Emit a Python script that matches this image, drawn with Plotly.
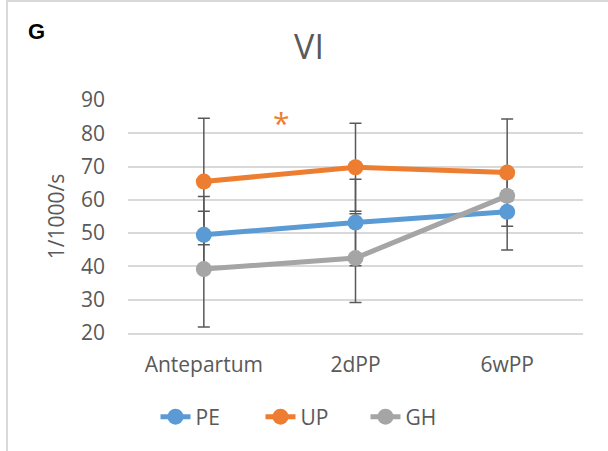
import plotly.graph_objects as go

# Time points and group means (1/1000/s) with their standard deviations
timepoints = ["Antepartum", "2dPP", "6wPP"]
pe_mean = [49.5, 53.2, 56.4]
pe_sd = [11.5, 13.0, 11.5]
up_mean = [65.5, 69.8, 68.2]
up_sd = [19.0, 13.2, 16.1]
gh_mean = [39.2, 42.5, 61.2]
gh_sd = [17.4, 13.3, 1.5]

y_ticks = [20, 30, 40, 50, 60, 70, 80, 90]

groups = [
    ("PE", pe_mean, pe_sd, "#5B9BD5"),
    ("UP", up_mean, up_sd, "#ED7D31"),
    ("GH", gh_mean, gh_sd, "#A5A5A5"),
]

FONT = "Open Sans"
GREY_TXT = "#595959"
TICK_SIZE = 21

fig = go.Figure()

# Error bars on the base axes, so the lines and markers (overlay axes) sit on top
for name, mean, sd, color in groups:
    fig.add_trace(go.Scatter(
        x=timepoints, y=mean, mode="markers",
        marker=dict(size=1, opacity=0),
        error_y=dict(type="data", array=sd, visible=True,
                     color="#595959", thickness=1.5, width=6),
        showlegend=False, hoverinfo="skip",
    ))

for name, mean, sd, color in groups:
    fig.add_trace(go.Scatter(
        x=timepoints, y=mean, mode="lines+markers", name=name,
        line=dict(color=color, width=5),
        marker=dict(color=color, size=16),
        xaxis="x2", yaxis="y2",
    ))

# Significance marker between Antepartum and 2dPP
fig.add_annotation(x=0.51, y=83.2, xref="x", yref="y", text="*",
                   showarrow=False, xanchor="center", yanchor="middle",
                   font=dict(family=FONT, size=30, color="#ED7D31"))

# Panel letter
fig.add_annotation(x=(36 - 128) / 455, y=(333 - 31) / 233, xref="paper", yref="paper",
                   text="<b>G</b>", showarrow=False, xanchor="center", yanchor="middle",
                   font=dict(family="Liberation Sans", size=22, color="#000000"))

# Outer frame
fig.add_shape(type="rect", xref="paper", yref="paper",
              x0=(7 - 128) / 455, x1=(640 - 128) / 455,
              y0=(333 - 480) / 233, y1=(333 - 1) / 233,
              line=dict(color="#D9D9D9", width=2), layer="below")

fig.update_layout(
    width=608, height=451,
    margin=dict(l=128, r=25, t=100, b=118),
    paper_bgcolor="white", plot_bgcolor="white",
    font=dict(family=FONT, size=TICK_SIZE, color=GREY_TXT),
    title=dict(text="VI", x=309 / 608, xanchor="center",
               y=1 - 47 / 451, yanchor="middle",
               font=dict(family=FONT, size=34, color=GREY_TXT)),
    legend=dict(orientation="h", x=(313 - 128) / 455, xanchor="center",
                y=(333 - 417) / 233, yanchor="middle",
                font=dict(family=FONT, size=TICK_SIZE, color=GREY_TXT),
                itemwidth=30, entrywidth=60, entrywidthmode="pixels"),
    showlegend=True,
    xaxis=dict(
        type="category", categoryarray=timepoints, range=[-0.5, 2.5],
        showgrid=False, showline=True, linecolor="#D9D9D9",
        linewidth=1.5, ticks="", ticklabelstandoff=12,
        tickfont=dict(family=FONT, size=TICK_SIZE, color=GREY_TXT),
    ),
    yaxis=dict(
        range=[20, 90], tickvals=y_ticks, showgrid=True, gridcolor="#D9D9D9",
        gridwidth=1.5, zeroline=False, showline=False, ticks="",
        ticklabelstandoff=22,
        tickfont=dict(family=FONT, size=TICK_SIZE, color=GREY_TXT),
        title=dict(text="1/1000/s", standoff=10,
                   font=dict(family=FONT, size=TICK_SIZE, color=GREY_TXT)),
    ),
    xaxis2=dict(type="category", categoryarray=timepoints, range=[-0.5, 2.5],
                overlaying="x", visible=False),
    yaxis2=dict(range=[20, 90], overlaying="y", visible=False),
)

fig.write_html("out.html")
